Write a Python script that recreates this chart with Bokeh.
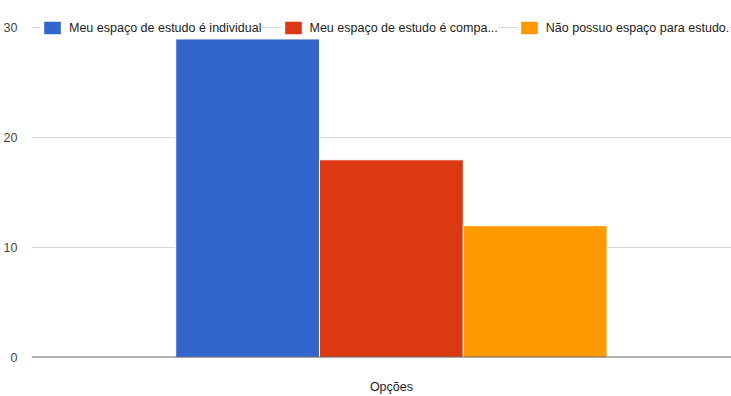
from bokeh.plotting import figure
from bokeh.models import ColumnDataSource, Legend, LegendItem, Span, FixedTicker
from bokeh.embed import file_html
from bokeh.resources import INLINE

# Survey answers and their counts
categories = [
    "Meu espaço de estudo é individual",
    "Meu espaço de estudo é compa...",
    "Não possuo espaço para estudo.",
]
counts = [29, 18, 12]
colors = ["#3366cc", "#dc3912", "#ff9900"]
axis_title = "Opções"
y_ticks = [0, 10, 20, 30]

FONT = "Liberation Sans, Arial, sans-serif"
FS = "12.5px"

p = figure(
    width=731, height=396,
    x_range=(-2.503, 2.365), y_range=(0, 32.5),
    output_backend="svg", toolbar_location=None,
    min_border_left=30, min_border_right=0, min_border_top=0, min_border_bottom=36,
)
p.outline_line_color = None
p.background_fill_color = "white"
p.border_fill_color = "white"

# one bar per answer, placed side by side around the single group
items = []
for i, (cat, val, col) in enumerate(zip(categories, counts, colors)):
    src = ColumnDataSource(dict(x=[i - 1], top=[val]))
    r = p.vbar(x="x", top="top", bottom=0, width=1.0, source=src,
               fill_color=col, line_color="white", line_width=1)
    items.append(LegendItem(label=cat, renderers=[r]))

# baseline at zero
p.add_layout(Span(location=0, dimension="width", line_color="#666666", line_width=2))

# y axis
p.yaxis.ticker = FixedTicker(ticks=y_ticks)
p.yaxis.axis_line_color = None
p.yaxis.major_tick_line_color = None
p.yaxis.minor_tick_line_color = None
p.yaxis.major_label_text_font = FONT
p.yaxis.major_label_text_font_size = FS
p.yaxis.major_label_text_color = "#444444"
p.yaxis.major_label_standoff = 8

# x axis: a single group label
p.xaxis.ticker = FixedTicker(ticks=[0])
p.xaxis.major_label_overrides = {0: axis_title}
p.xaxis.axis_line_color = None
p.xaxis.major_tick_line_color = None
p.xaxis.minor_tick_line_color = None
p.xaxis.major_label_text_font = FONT
p.xaxis.major_label_text_font_size = FS
p.xaxis.major_label_text_color = "#222222"
p.xaxis.major_label_standoff = 16

p.xgrid.grid_line_color = None
p.ygrid.ticker = FixedTicker(ticks=[10, 20, 30])
p.ygrid.grid_line_color = "#d9d9d9"
p.ygrid.grid_line_width = 1

legend = Legend(
    items=items, orientation="horizontal", location=(10, 321),
    padding=0, margin=0, spacing=20,
    glyph_width=22, glyph_height=17, label_height=17, label_standoff=6,
    label_text_font=FONT, label_text_font_size=FS, label_text_color="#222222",
    background_fill_alpha=0, border_line_color=None,
    item_background_policy="every", item_background_fill_color="white",
    item_background_fill_alpha=1,
)
p.add_layout(legend, "center")

open("out.html", "w").write(file_html(p, INLINE))
